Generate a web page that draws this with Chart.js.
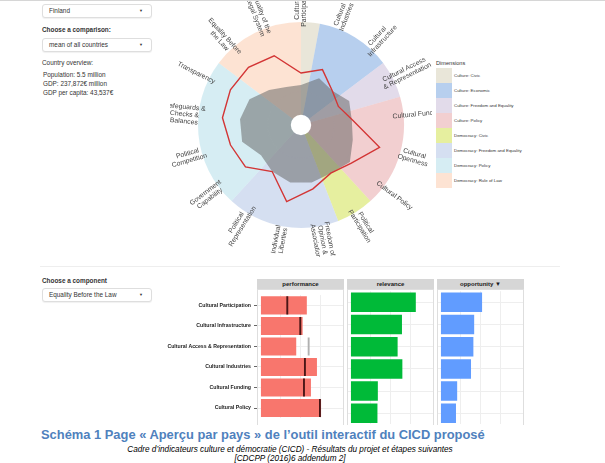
<!DOCTYPE html>
<html lang="fr">
<head>
<meta charset="UTF-8">
<title>Aperçu par pays</title>
<script src="https://cdn.jsdelivr.net/npm/chart.js"></script>
<style>
  body { margin: 0; background: #fff; font-family: "Liberation Sans", Arial, sans-serif; }
  #page { position: relative; width: 605px; height: 463px; overflow: hidden; border-top: 1px solid #d6d6d6; box-sizing: border-box; }
  .abs { position: absolute; }
  .select { position: absolute; left: 42px; width: 110px; height: 14px; border: 1px solid #dedede; border-radius: 3px;
            box-shadow: 0 1px 1px rgba(0,0,0,0.06); box-sizing: border-box; font-size: 6.4px; color: #333;
            line-height: 12px; padding-left: 6px; background: #fff; }
  .select .caret { position: absolute; right: 8px; top: 0; font-size: 4px; color: #333; }
  .lbl { position: absolute; left: 42px; font-size: 6.4px; font-weight: bold; color: #333; }
  .txt { position: absolute; left: 43px; font-size: 6.4px; color: #333; line-height: 9px; }
  #radarClip { position: absolute; left: 170px; top: 0; width: 262px; height: 256px; overflow: hidden; }
  #radarBox { position: absolute; left: -29px; top: -36px; width: 320px; height: 320px; }
  #legend { position: absolute; left: 436px; top: 58px; }
  .legtitle { font-size: 5.6px; color: #333; height: 9px; line-height: 9px; }
  .legrow { height: 15px; position: relative; }
  .legkey { position: absolute; left: 0; top: 0; width: 16px; height: 15px; }
  .legtxt { position: absolute; left: 18px; top: 0; line-height: 15px; font-size: 4.4px; color: #333; white-space: nowrap; }
  .strip { position: absolute; top: 278px; width: 87px; height: 10px; background: #d6d6d6; font-size: 6px; font-weight: bold;
           color: #1a1a1a; text-align: center; line-height: 10px; }
  .panel { position: absolute; top: 288px; width: 87px; height: 140px; border: 1px solid #dedede; box-sizing: border-box; pointer-events: none; }
  .facet { position: absolute; top: 288px; height: 135.4px; }
  #caption { position: absolute; left: 0; top: 424px; width: 605px; height: 39px; background: #fff; }
  .it { position: absolute; left: 0; width: 580px; font-size: 8.2px; font-style: italic; color: #000; text-align: center; white-space: nowrap; line-height: 9px; }
</style>
</head>
<body>
<div id="page">
  <div class="select" style="top:3px">Finland<span class="caret">▼</span></div>
  <div class="lbl" style="top:25px">Choose a comparison:</div>
  <div class="select" style="top:37px">mean of all countries<span class="caret">▼</span></div>
  <div class="txt" style="top:57px;left:42px">Country overview:</div>
  <div class="txt" style="top:69px">Population: 5.5 million<br>GDP: 237,872€ million<br>GDP per capita: 43,537€</div>

  <div id="radarClip"><div id="radarBox"><canvas id="radar"></canvas></div></div>
  <div id="legend"><div class="legtitle">Dimensions</div></div>

  <div class="abs" style="left:40px;top:265px;width:520px;height:1px;background:#eeeeee"></div>
  <div class="lbl" style="top:276px">Choose a component</div>
  <div class="select" style="top:287px">Equality Before the Law<span class="caret">▼</span></div>

  <div class="strip" style="left:257px">performance</div>
  <div class="strip" style="left:347px">relevance</div>
  <div class="strip" style="left:437px">opportunity ▼</div>
  <div class="facet" style="left:157px;width:187px"><canvas id="perf"></canvas></div>
  <div class="facet" style="left:347px;width:87px"><canvas id="rel"></canvas></div>
  <div class="facet" style="left:437px;width:87px"><canvas id="opp"></canvas></div>
  <div class="panel" style="left:257px"></div>
  <div class="panel" style="left:347px"></div>
  <div class="panel" style="left:437px"></div>

  <div id="caption">
    <div class="abs" style="left:41px;top:2px;font-size:12.9px;font-weight:bold;color:#4f81bd;white-space:nowrap;line-height:15px">Schéma 1 Page « Aperçu par pays » de l’outil interactif du CICD proposé</div>
    <div class="it" style="top:20px">Cadre d’indicateurs culture et démocratie (CICD) - Résultats du projet et étapes suivantes</div>
    <div class="it" style="top:28.5px">[CDCPP (2016)6 addendum 2]</div>
  </div>
</div>

<script>
  // radar: components, their dimension, and the two profiles
  var radarLabels = [
    ['Cultural', 'Participation'], ['Cultural', 'Industries'], ['Cultural', 'Infrastructure'],
    ['Cultural Access', '& Representation'], ['Cultural Funding'], ['Cultural', 'Openness'], ['Cultural Policy'],
    ['Political', 'Participation'], ['Freedom of', 'Opinion &', 'Association'], ['Individual', 'Liberties'],
    ['Political', 'Representation'], ['Government', 'Capability'], ['Political', 'Competition'],
    ['Safeguards &', 'Checks &', 'Balances'], ['Transparency'], ['Equality Before', 'the Law'], ['Quality of the', 'Legal System']
  ]
  var radarDims = [0, 1, 1, 2, 3, 3, 3, 4, 5, 5, 5, 6, 6, 6, 6, 7, 7]
  var countryScores = [45, 53, 39, 34, 45, 77, 57, 50, 59, 73, 48, 64, 68, 74, 74, 73, 69]
  var comparisonScores = [32, 43, 39, 47, 44, 47, 55, 50, 52, 52, 48, 43, 55, 55, 51, 40, 33]

  var dimensionNames = ['Culture: Civic', 'Culture: Economic', 'Culture: Freedom and Equality', 'Culture: Policy',
    'Democracy: Civic', 'Democracy: Freedom and Equality', 'Democracy: Policy', 'Democracy: Rule of Law']
  var dimColors = ['rgba(211,205,179,0.5)', 'rgba(111,159,221,0.5)', 'rgba(197,183,213,0.5)', 'rgba(229,159,161,0.5)',
    'rgba(205,223,63,0.5)', 'rgba(171,191,227,0.5)', 'rgba(173,219,231,0.5)', 'rgba(251,199,167,0.5)']

  // bars: component table
  var components = ['Cultural Participation', 'Cultural Infrastructure', 'Cultural Access & Representation',
    'Cultural Industries', 'Cultural Funding', 'Cultural Policy']
  var performance = [0.58, 0.527, 0.446, 0.708, 0.632, 0.76]
  var performanceMean = [0.333, 0.497, 0.603, 0.556, 0.544, 0.746]
  var relevance = [0.82, 0.645, 0.59, 0.65, 0.34, 0.335]
  var opportunity = [0.52, 0.42, 0.41, 0.38, 0.205, 0.19]

  Chart.defaults.font.family = '"Liberation Sans", Arial, sans-serif'

  // wedge size of each dimension; the first group starts on the top axis
  var step = 360 / radarLabels.length
  var wedgeAngles = dimensionNames.map(function (d, k) {
    var n = radarDims.filter(function (x) { return x === k }).length
    if (k === 0) n -= 0.5
    if (k === dimensionNames.length - 1) n += 0.5
    return n * step
  })

  var legend = document.getElementById('legend')
  dimensionNames.forEach(function (name, k) {
    var row = document.createElement('div')
    row.className = 'legrow'
    row.innerHTML = '<div class="legkey" style="background:' + dimColors[k] + '"></div><div class="legtxt">' + name + '</div>'
    legend.appendChild(row)
  })

  var rotatedLabels = {
    id: 'rotatedLabels',
    afterDraw: function (chart) {
      var scale = chart.scales.r
      var ctx = chart.ctx
      ctx.save()
      ctx.font = '6.8px "Liberation Sans", Arial'
      ctx.fillStyle = '#444'
      ctx.textAlign = 'center'
      ctx.textBaseline = 'middle'
      chart.data.labels.forEach(function (lines, i) {
        var p = scale.getPointPosition(i, scale.drawingArea + 14)
        var a = p.angle
        while (a > Math.PI) a -= 2 * Math.PI
        while (a <= -Math.PI) a += 2 * Math.PI
        var flip = a > Math.PI / 2 + 1e-6 || a < -Math.PI / 2 - 1e-6
        ctx.save()
        ctx.translate(p.x, p.y)
        ctx.rotate(flip ? a + Math.PI : a)
        lines.forEach(function (t, k) {
          ctx.fillText(t, 0, (k - (lines.length - 1) / 2) * 7.2)
        })
        ctx.restore()
      })
      ctx.restore()
    }
  }

  new Chart(document.getElementById('radar'), {
    type: 'radar',
    data: {
      labels: radarLabels,
      datasets: [
        { label: 'Finland', data: countryScores, borderColor: '#d33535', borderWidth: 1.4, fill: false, pointRadius: 0, order: 0 },
        { label: 'mean of all countries', data: comparisonScores, backgroundColor: 'rgba(100,100,100,0.52)', borderWidth: 0, fill: 'origin', pointRadius: 0, order: 1 },
        { type: 'polarArea', data: [0], angle: 360, backgroundColor: '#ffffff', borderWidth: 0, order: 2 },
        { type: 'polarArea', data: dimensionNames.map(function () { return 100 }), backgroundColor: dimColors, borderWidth: 0,
          angle: function (c) { return wedgeAngles[c.dataIndex] }, order: 3 }
      ]
    },
    options: {
      responsive: true,
      maintainAspectRatio: false,
      animation: false,
      layout: { padding: 56.5 },
      plugins: { legend: { display: false }, tooltip: { enabled: false } },
      scales: {
        r: {
          min: -11, max: 100, startAngle: 0, z: 1,
          ticks: { display: false, stepSize: 25 },
          grid: { circular: true, color: 'rgba(255,255,255,0.55)', lineWidth: 0.8 },
          angleLines: { color: 'rgba(255,255,255,0.55)', lineWidth: 0.8 },
          pointLabels: { display: false }
        }
      }
    },
    plugins: [rotatedLabels]
  })

  function facetChart(id, values, color, withAxis, marks) {
    var datasets = [{ data: values, backgroundColor: color, barPercentage: 0.88, categoryPercentage: 1, grouped: false, order: 1 }]
    if (marks) {
      datasets.push({
        data: marks.map(function (m) { return [m - 0.012, m + 0.012] }),
        backgroundColor: marks.map(function (m, i) { return m > values[i] ? '#b0b0b0' : '#4a1616' }),
        barPercentage: 0.88, categoryPercentage: 1, grouped: false, order: 0
      })
    }
    new Chart(document.getElementById(id), {
      type: 'bar',
      data: { labels: components, datasets: datasets },
      options: {
        indexAxis: 'y',
        responsive: true,
        maintainAspectRatio: false,
        animation: false,
        layout: { padding: { top: 2.2, left: 0, right: 0, bottom: 0 } },
        plugins: { legend: { display: false }, tooltip: { enabled: false } },
        scales: {
          x: {
            min: -0.05, max: 1.05,
            ticks: { display: false, stepSize: 0.25 },
            grid: { color: '#eeeeee', drawTicks: false },
            border: { display: false },
            afterFit: function (s) { s.height = 0 }
          },
          y: {
            ticks: { display: withAxis, color: '#222', padding: 3, font: { size: 5.2, weight: 'bold' } },
            grid: { offset: false, color: '#eeeeee', drawTicks: withAxis, tickLength: 3, tickColor: '#666' },
            border: { display: false },
            afterFit: function (s) { s.width = withAxis ? 100 : 0 }
          }
        }
      }
    })
  }

  facetChart('perf', performance, '#F8766D', true, performanceMean)
  facetChart('rel', relevance, '#00BA38', false)
  facetChart('opp', opportunity, '#619CFF', false)
</script>
</body>
</html>
